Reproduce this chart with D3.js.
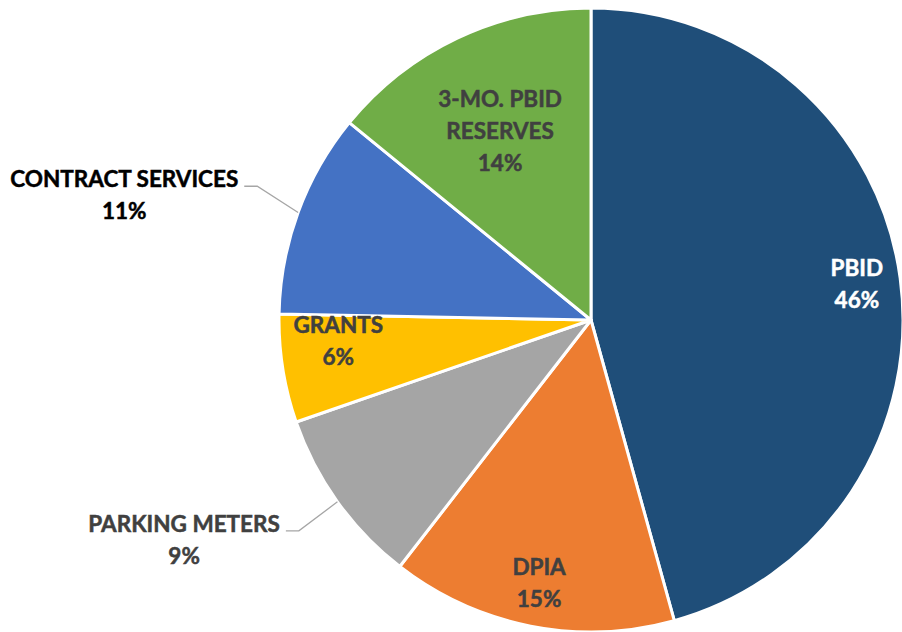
<!DOCTYPE html>
<html>
<head>
<meta charset="utf-8">
<script src="https://cdn.jsdelivr.net/npm/d3@7"></script>
<style>
  body { margin: 0; background: #fff; }
  text { font-family: Lato, "Open Sans", sans-serif; font-weight: bold; font-size: 22.5px; }
</style>
</head>
<body>
<script>
// slices, clockwise from 12 o'clock
const categories = [['PBID'], ['DPIA'], ['PARKING METERS'], ['GRANTS'], ['CONTRACT SERVICES'], ['3-MO. PBID', 'RESERVES']]
const shares = [45.7, 14.8, 9.2, 5.6, 10.6, 14.1]
const percentLabels = ['46%', '15%', '9%', '6%', '11%', '14%']
const colors = ['#1F4E79', '#ED7D31', '#A5A5A5', '#FFC000', '#4472C4', '#70AD47']
const labelColors = ['#ffffff', '#404040', '#404040', '#404040', '#000000', '#404040']
// label placement: inside at a fraction of the radius, or outside with a leader line
const labelOutside = [false, false, true, false, true, false]
const labelRadius = [0.86, 0.86, 1.16, 0.82, 1.16, 0.68]
const labelNudgeX = [0, 0, 2, 0, 6, 0]
const labelNudgeY = [0, 0, 0, -19, -9, 3]

const width = 902
const height = 632
const cx = 591
const cy = 320
const r = 312
const lineGap = 32

const svg = d3.select('body').append('svg')
  .attr('width', width)
  .attr('height', height)

const pie = d3.pie().sort(null).value(d => d)
const arcs = pie(shares)
const arc = d3.arc().innerRadius(0).outerRadius(r)

const g = svg.append('g').attr('transform', `translate(${cx},${cy})`)

g.selectAll('path.slice')
  .data(arcs)
  .join('path')
  .attr('class', 'slice')
  .attr('d', arc)
  .attr('fill', (d, i) => colors[i])
  .attr('stroke', '#fff')
  .attr('stroke-width', 3)
  .attr('stroke-linejoin', 'round')

const polar = (a, rad) => [Math.sin(a) * rad, -Math.cos(a) * rad]

// bolder glyphs, closer to the original heavy labels
const makeText = i => g.append('text')
  .attr('fill', labelColors[i])
  .attr('stroke', labelColors[i])
  .attr('stroke-width', 0.5)
  .attr('text-anchor', 'middle')

arcs.forEach((d, i) => {
  const mid = (d.startAngle + d.endAngle) / 2
  const lines = categories[i].concat([percentLabels[i]])
  if (labelOutside[i]) {
    const p0 = polar(mid, r)
    const e = polar(mid, r * labelRadius[i])
    const p1 = [e[0] + labelNudgeX[i], e[1] + labelNudgeY[i]]
    const p2 = [p1[0] - 13, p1[1]]
    g.append('polyline')
      .attr('points', [p0, p1, p2].map(p => p.join(',')).join(' '))
      .attr('fill', 'none')
      .attr('stroke', '#A6A6A6')
      .attr('stroke-width', 1.3)
    const t = makeText(i)
    const label = t.append('tspan').text(lines[0]).attr('y', p2[1] + 1)
    const w = label.node().getComputedTextLength()
    const tx = p2[0] - 6 - w / 2
    label.attr('x', tx)
    lines.slice(1).forEach((s, k) => {
      t.append('tspan').text(s).attr('x', tx).attr('y', p2[1] + 1 + lineGap * (k + 1))
    })
  } else {
    const c = polar(mid, r * labelRadius[i])
    const top = c[1] + labelNudgeY[i] - lineGap * (lines.length - 1) / 2 + 8
    const t = makeText(i)
    lines.forEach((s, k) => {
      t.append('tspan').text(s).attr('x', c[0] + labelNudgeX[i]).attr('y', top + lineGap * k)
    })
  }
})
</script>
</body>
</html>
